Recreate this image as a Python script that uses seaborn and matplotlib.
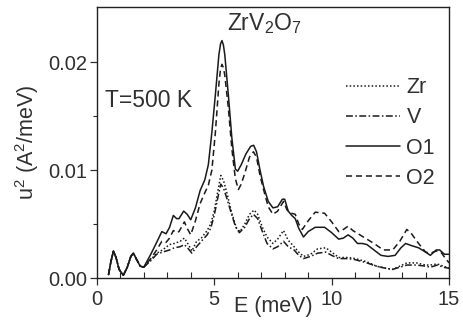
import numpy as np
import pandas as pd
import seaborn as sns
import matplotlib
matplotlib.use("Agg")
import matplotlib.pyplot as plt

# ---- data ----
# common low-energy part shared by all four curves
E_low = [0.5, 0.6, 0.71, 0.82, 0.95, 1.13, 1.3, 1.45, 1.56, 1.7, 1.85]
u_low = [0.0003, 0.0015, 0.0025, 0.0019, 0.0008, 0.00025, 0.0010, 0.0020, 0.0023, 0.0017, 0.0011]

E_O1 = [2.0, 2.3, 2.55, 2.77, 2.95, 3.1, 3.26, 3.4, 3.5, 3.7, 3.85, 4.0, 4.2, 4.4, 4.6, 4.75,
        4.9, 5.05, 5.2, 5.27, 5.33, 5.39, 5.45, 5.6, 5.75, 5.9, 6.0, 6.15, 6.35, 6.55, 6.68,
        6.8, 6.95, 7.1, 7.3, 7.5, 7.7, 7.9, 8.0, 8.15, 8.3, 8.45, 8.6, 8.8, 9.0, 9.3, 9.7,
        10.0, 10.3, 10.5, 10.7, 10.9, 11.1, 11.3, 11.5, 11.8, 12.1, 12.4, 12.7, 12.95, 13.15,
        13.4, 13.7, 14.0, 14.2, 14.45, 14.6, 14.8, 15.0]
u_O1 = [0.0010, 0.0022, 0.0033, 0.0043, 0.0041, 0.0047, 0.0058, 0.0055, 0.0055, 0.0062, 0.0059,
        0.0054, 0.0065, 0.0081, 0.0091, 0.0105, 0.0135, 0.0170, 0.0207, 0.0217, 0.0220, 0.0216,
        0.0207, 0.0170, 0.0130, 0.0101, 0.0099, 0.0105, 0.0115, 0.0122, 0.0123, 0.0117, 0.0100,
        0.0085, 0.0071, 0.0065, 0.0066, 0.0073, 0.0073, 0.0062, 0.0058, 0.0055, 0.0046, 0.0038,
        0.0043, 0.0047, 0.0047, 0.0042, 0.0036, 0.0037, 0.0040, 0.0037, 0.0032, 0.0032, 0.0031,
        0.0026, 0.0021, 0.0020, 0.0021, 0.0028, 0.0032, 0.0030, 0.0028, 0.0024, 0.0021, 0.0026,
        0.0026, 0.0022, 0.0022]

E_O2 = [2.0, 2.3, 2.55, 2.77, 2.95, 3.1, 3.26, 3.4, 3.5, 3.73, 3.85, 4.0, 4.2, 4.4, 4.6, 4.75,
        4.9, 5.05, 5.2, 5.27, 5.33, 5.39, 5.45, 5.6, 5.75, 5.9, 6.03, 6.15, 6.3, 6.5, 6.67,
        6.8, 6.95, 7.1, 7.3, 7.5, 7.7, 7.95, 8.1, 8.3, 8.45, 8.6, 8.75, 9.0, 9.3, 9.7, 10.0,
        10.3, 10.5, 10.7, 10.9, 11.2, 11.5, 11.8, 12.2, 12.6, 12.9, 13.2, 13.4, 13.7, 14.0,
        14.2, 14.45, 14.65, 14.85, 15.0]
u_O2 = [0.0010, 0.0018, 0.0026, 0.0034, 0.0033, 0.0037, 0.0044, 0.0042, 0.0043, 0.0052, 0.0046,
        0.0040, 0.0053, 0.0069, 0.0079, 0.0086, 0.0100, 0.0135, 0.0180, 0.0194, 0.0198, 0.0195,
        0.0188, 0.0158, 0.0120, 0.0092, 0.0082, 0.0087, 0.0097, 0.0112, 0.0117, 0.0112, 0.0095,
        0.0082, 0.0066, 0.0059, 0.0062, 0.0071, 0.0063, 0.0060, 0.0059, 0.0050, 0.0045, 0.0053,
        0.0061, 0.0060, 0.0052, 0.0043, 0.0045, 0.0048, 0.0044, 0.0040, 0.0036, 0.0032, 0.0026,
        0.0026, 0.0034, 0.0045, 0.0041, 0.0032, 0.0024, 0.0023, 0.0025, 0.0024, 0.0018, 0.0014]

E_Zr = [2.0, 2.3, 2.55, 2.8, 3.1, 3.3, 3.55, 3.73, 3.9, 4.05, 4.25, 4.45, 4.7, 4.85, 5.0, 5.15,
        5.28, 5.4, 5.55, 5.75, 5.95, 6.1, 6.3, 6.5, 6.7, 6.85, 7.05, 7.25, 7.5, 7.7, 7.95, 8.15,
        8.4, 8.6, 8.8, 9.1, 9.4, 9.75, 10.0, 10.3, 10.7, 11.0, 11.5, 11.9, 12.3, 12.6, 12.9,
        13.2, 13.6, 14.0, 14.2, 14.5, 14.75, 15.0]
u_Zr = [0.0010, 0.0017, 0.0023, 0.0026, 0.0031, 0.0032, 0.0034, 0.0037, 0.0031, 0.0025, 0.0034,
        0.0037, 0.0044, 0.0050, 0.0062, 0.0080, 0.0095, 0.0090, 0.0078, 0.0060, 0.0046, 0.0043,
        0.0050, 0.0059, 0.0063, 0.0059, 0.0047, 0.0038, 0.0032, 0.0036, 0.0044, 0.0035, 0.0029,
        0.0024, 0.0020, 0.0022, 0.0027, 0.0028, 0.0024, 0.0019, 0.0019, 0.0018, 0.0015, 0.0011,
        0.0009, 0.0008, 0.0011, 0.0014, 0.0014, 0.0012, 0.0012, 0.0013, 0.0011, 0.0009]

E_V = [2.0, 2.3, 2.55, 2.8, 3.1, 3.3, 3.55, 3.73, 3.9, 4.05, 4.25, 4.45, 4.7, 4.85, 5.0, 5.15,
       5.28, 5.4, 5.55, 5.7, 5.9, 6.07, 6.3, 6.5, 6.67, 6.85, 7.05, 7.25, 7.5, 7.7, 7.95, 8.15,
       8.4, 8.6, 8.8, 9.1, 9.4, 9.75, 10.0, 10.3, 10.7, 11.0, 11.5, 11.9, 12.3, 12.6, 12.9,
       13.2, 13.6, 14.0, 14.2, 14.5, 14.75, 15.0]
u_V = [0.0010, 0.0016, 0.0022, 0.0024, 0.0026, 0.0028, 0.0029, 0.0031, 0.0027, 0.0023, 0.0029,
       0.0034, 0.0040, 0.0046, 0.0058, 0.0074, 0.0087, 0.0083, 0.0073, 0.0062, 0.0048, 0.0042,
       0.0047, 0.0055, 0.0059, 0.0055, 0.0043, 0.0032, 0.0027, 0.0029, 0.0034, 0.0029, 0.0026,
       0.0021, 0.0018, 0.0020, 0.0023, 0.0024, 0.0021, 0.0018, 0.0018, 0.0017, 0.0014, 0.0011,
       0.0009, 0.0008, 0.0010, 0.0012, 0.0012, 0.0011, 0.0010, 0.0012, 0.0010, 0.0009]

series_names = ["Zr", "V", "O1", "O2"]
x_ticks = [0, 5, 10, 15]
y_ticks = [0.00, 0.01, 0.02]
y_tick_labels = ["0.00", "0.01", "0.02"]

# ---- style ----
sns.set_style("ticks")
plt.rcParams["font.family"] = ["Liberation Sans", "DejaVu Sans"]
plt.rcParams["mathtext.default"] = "regular"
txt = "#303030"
line_c = "#1a1a1a"

frames = []
for name, E, u in [("Zr", E_Zr, u_Zr), ("V", E_V, u_V), ("O1", E_O1, u_O1), ("O2", E_O2, u_O2)]:
    frames.append(pd.DataFrame({"E": E_low + E, "u": u_low + u, "series": name}))
df = pd.concat(frames, ignore_index=True)

styles = {
    "Zr": (0, (1, 1.4)),
    "V": (0, (4.5, 1.6, 1, 1.6)),
    "O1": "-",
    "O2": (0, (4, 2.5)),
}

fig = plt.figure(figsize=(4.63, 3.25), dpi=100)
ax = fig.add_axes([0.209, 0.1446, 0.761, 0.8334])

for name in series_names:
    sub = df[df["series"] == name]
    sns.lineplot(data=sub, x="E", y="u", ax=ax, color=line_c, lw=1.1,
                 linestyle=styles[name], label=name, sort=False, estimator=None)

ax.set_xlim(0, 15)
ax.set_ylim(0, 0.0251)
ax.set_xticks(x_ticks)
ax.set_xticks(np.arange(0, 16, 1), minor=True)
ax.set_yticks(y_ticks)
ax.set_yticklabels(y_tick_labels)
ax.set_yticks([0.005, 0.015], minor=True)

ax.tick_params(axis="x", which="major", direction="out", length=5, width=0.9,
               pad=3.5, labelsize=14.5, colors=txt)
ax.tick_params(axis="x", which="minor", direction="in", length=4, width=0.8)
ax.tick_params(axis="y", which="major", direction="out", length=5, width=0.9,
               pad=2, labelsize=14.5, colors=txt)
ax.tick_params(axis="y", which="minor", direction="out", length=3, width=0.8)
for sp in ax.spines.values():
    sp.set_visible(True)
    sp.set_color("#222222")
    sp.set_linewidth(1.0)

ax.set_xlabel("E (meV)", fontsize=15.5, color=txt, labelpad=-9)
ax.set_ylabel("u$^2$ (A$^2$/meV)", fontsize=15.5, color=txt, labelpad=5)

ax.text(0.370, 0.915, "ZrV$_2$O$_7$", transform=ax.transAxes, fontsize=16.5,
        color=txt, ha="left", va="baseline")
ax.text(0.024, 0.657, "T=500 K", transform=ax.transAxes, fontsize=16.5,
        color=txt, ha="left", va="center")

leg = ax.legend(loc="upper left", bbox_to_anchor=(0.653, 0.812), frameon=False,
                fontsize=15.5, handlelength=2.5, handletextpad=0.3, labelspacing=0.42,
                borderpad=0.4)
for t in leg.get_texts():
    t.set_color(txt)

fig.savefig("out.png", dpi=100)
